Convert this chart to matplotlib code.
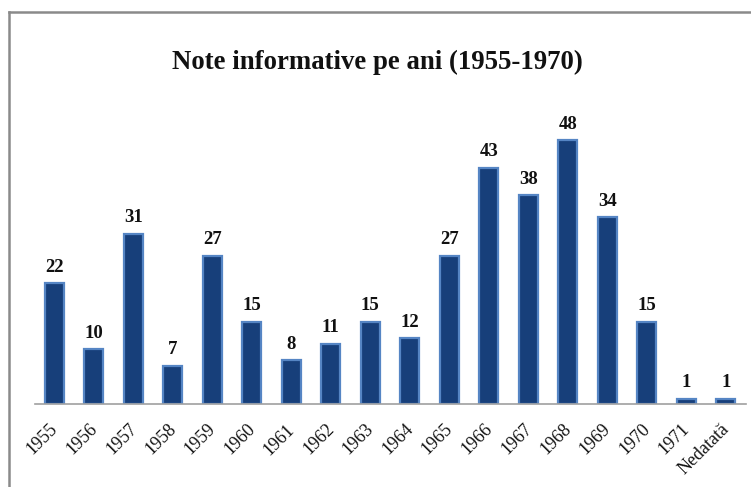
import matplotlib
matplotlib.use("Agg")
import matplotlib.pyplot as plt
from matplotlib.lines import Line2D
from matplotlib.transforms import ScaledTranslation

categories = ["1955", "1956", "1957", "1958", "1959", "1960", "1961", "1962", "1963",
              "1964", "1965", "1966", "1967", "1968", "1969", "1970", "1971", "Nedatată"]
values = [22, 10, 31, 7, 27, 15, 8, 11, 15, 12, 27, 43, 38, 48, 34, 15, 1, 1]
title = "Note informative pe ani (1955-1970)"

W, H = 751, 487
fig = plt.figure(figsize=(W / 100, H / 100), dpi=100)
fig.patch.set_facecolor("white")

ax = fig.add_axes([34.5 / W, (H - 404) / H, 711 / W, 275 / H])
x = list(range(len(categories)))
ax.bar(x, values, width=0.47, color="#173f7a", edgecolor="#5585c4", linewidth=1.6)
ax.set_xlim(-0.5, len(categories) - 0.5)
ax.set_ylim(0, 50)
for xi, v in zip(x, values):
    ax.text(xi, v + 1.3, str(v), ha="center", va="bottom", fontsize=13.5,
            fontweight="bold", family="Liberation Serif", color="#111111")

for s in ["top", "right", "left"]:
    ax.spines[s].set_visible(False)
ax.spines["bottom"].set_color("#a0a0a0")
ax.spines["bottom"].set_linewidth(1.2)
ax.set_yticks([])
ax.set_xticks(x)
ax.set_xticklabels(categories, rotation=45, ha="right", rotation_mode="anchor",
                   fontsize=13, family="Liberation Serif", color="#111111")
ax.tick_params(axis="x", length=0, pad=7)
offset = ScaledTranslation(-5 / 100, -7 / 100, fig.dpi_scale_trans)
for lbl in ax.get_xticklabels():
    lbl.set_transform(lbl.get_transform() + offset)

fig.text(377 / W, 1 - 62 / H, title, ha="center", va="center", fontsize=19.3,
         fontweight="bold", family="Liberation Serif", color="#111111")

fig.add_artist(Line2D([8.5 / W, 8.5 / W], [0, 1 - 12 / H], transform=fig.transFigure,
                      color="#8a8a8a", linewidth=1.8))
fig.add_artist(Line2D([8.5 / W, 1], [1 - 12 / H, 1 - 12 / H], transform=fig.transFigure,
                      color="#8a8a8a", linewidth=1.8))

fig.savefig("out.png", dpi=100, facecolor="white")
